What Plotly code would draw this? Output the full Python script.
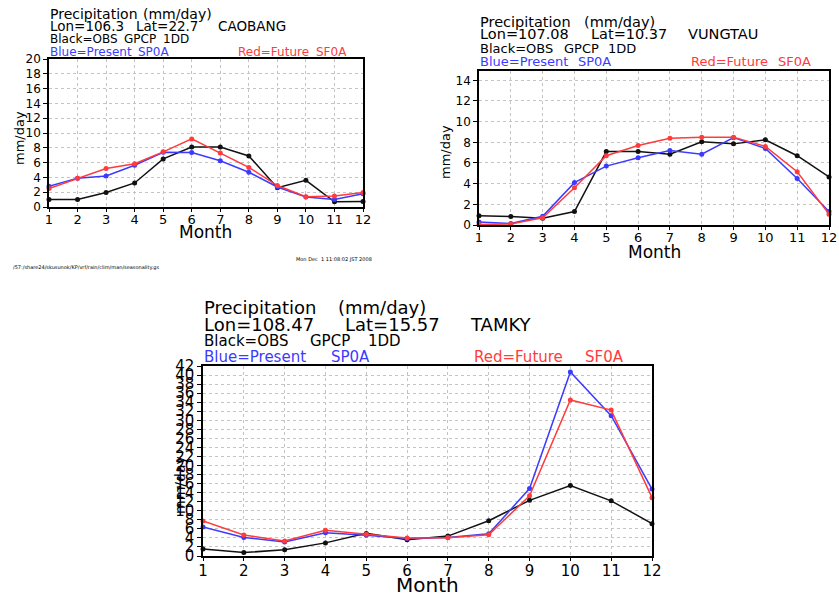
import plotly.graph_objects as go

W, H = 839, 597
months = list(range(1, 13))
month_labels = [str(m) for m in months]

# CAOBANG
cb_obs = [1.0, 1.0, 1.95, 3.25, 6.5, 8.1, 8.1, 6.9, 2.6, 3.6, 0.7, 0.75]
cb_pres = [2.8, 3.9, 4.2, 5.65, 7.4, 7.35, 6.25, 4.7, 2.7, 1.35, 1.0, 1.8]
cb_fut = [2.5, 3.9, 5.2, 5.85, 7.45, 9.2, 7.3, 5.35, 2.9, 1.4, 1.5, 1.95]

# VUNGTAU
vt_obs = [0.9, 0.83, 0.65, 1.3, 7.1, 7.1, 6.85, 8.05, 7.85, 8.25, 6.7, 4.65]
vt_pres = [0.3, 0.15, 0.85, 4.1, 5.7, 6.5, 7.2, 6.85, 8.45, 7.4, 4.5, 1.3]
vt_fut = [0.05, 0.1, 0.7, 3.6, 6.7, 7.7, 8.4, 8.5, 8.5, 7.6, 5.15, 1.05]

# TAMKY
tk_obs = [1.55, 0.75, 1.4, 2.9, 5.0, 3.6, 4.4, 7.8, 12.3, 15.6, 12.2, 7.15]
tk_pres = [6.4, 4.1, 3.1, 5.15, 4.6, 3.85, 4.1, 4.9, 14.9, 40.7, 31.0, 14.8]
tk_fut = [7.75, 4.65, 3.3, 5.7, 4.8, 4.0, 4.05, 4.7, 13.3, 34.5, 32.25, 12.9]

cb_yticks = list(range(0, 21, 2))
vt_yticks = list(range(0, 15, 2))
tk_yticks = list(range(0, 43, 2))

BLACK, BLUE, RED = "#111111", "#3b3bff", "#ff3b3b"
FONT = "DejaVu Sans"

def px(x):
    return x / W

def py(y):
    return 1 - y / H

# panel boxes in pixels: (x0, x1, ytop, ybottom)
boxes = {
    "1": (49, 363, 59, 207),
    "2": (479, 829, 71, 225),
    "3": (203, 652, 366, 556),
}
yranges = {"1": [0, 20], "2": [0, 14.9], "3": [0, 42]}
yticks = {"1": cb_yticks, "2": vt_yticks, "3": tk_yticks}
xtickfont = {"1": 13, "2": 13, "3": 15}
ytickfont = {"1": 12, "2": 12, "3": 15}

fig = go.Figure()

data = {
    "1": (cb_obs, cb_pres, cb_fut),
    "2": (vt_obs, vt_pres, vt_fut),
    "3": (tk_obs, tk_pres, tk_fut),
}
for k, (obs, pres, fut) in data.items():
    xa = "x" if k == "1" else "x" + k
    ya = "y" if k == "1" else "y" + k
    for series, col in ((obs, BLACK), (pres, BLUE), (fut, RED)):
        fig.add_trace(go.Scatter(
            x=months, y=series, mode="lines+markers", xaxis=xa, yaxis=ya,
            line=dict(color=col, width=1.5), marker=dict(color=col, size=5),
            showlegend=False, hoverinfo="skip", cliponaxis=False))

layout = dict(
    width=W, height=H, margin=dict(l=0, r=0, t=0, b=0),
    paper_bgcolor="white", plot_bgcolor="white", showlegend=False,
    font=dict(family=FONT, color="black"),
)
for k, (x0, x1, yt, yb) in boxes.items():
    xname = "xaxis" if k == "1" else "xaxis" + k
    yname = "yaxis" if k == "1" else "yaxis" + k
    anchor_x = "y" if k == "1" else "y" + k
    anchor_y = "x" if k == "1" else "x" + k
    layout[xname] = dict(
        domain=[px(x0), px(x1)], anchor=anchor_x, range=[1, 12],
        tickvals=months, ticktext=month_labels, ticks="outside", ticklen=3,
        ticklabelstandoff=-3,
        tickcolor="black", showline=True, linecolor="black", linewidth=1.5,
        mirror=True, showgrid=True, gridcolor="#c4c4c4", griddash="dot",
        gridwidth=1, zeroline=False, automargin=False,
        tickfont=dict(size=xtickfont[k], family=FONT),
    )
    layout[yname] = dict(
        domain=[py(yb), py(yt)], anchor=anchor_y, range=yranges[k],
        tickvals=yticks[k], ticks="outside", ticklen=4, tickcolor="black",
        showline=True, linecolor="black", linewidth=1.5, mirror=True,
        showgrid=True, gridcolor="#c4c4c4", griddash="dot", gridwidth=1,
        zeroline=False, automargin=False,
        tickfont=dict(size=ytickfont[k], family=FONT),
    )
fig.update_layout(**layout)

def txt(x, y, s, size, color="black", xanchor="left", angle=0):
    fig.add_annotation(x=px(x), y=py(y), xref="paper", yref="paper", text=s,
                       showarrow=False, xanchor=xanchor, yanchor="middle",
                       textangle=angle, borderpad=0,
                       font=dict(size=size, color=color, family=FONT))

def line(y, parts, size, color="black"):
    for x, s in parts:
        txt(x, y, s, size, color)

# Panel 1 texts
line(14, [(49, "Precipitation"), (142, "(mm/day)")], 14)
line(26, [(49, "Lon=106.3"), (135, "Lat=22.7"), (217, "CAOBANG")], 13.5)
line(39, [(49, "Black=OBS"), (123, "GPCP"), (162, "1DD")], 12)
line(52, [(49, "Blue=Present"), (137, "SP0A")], 12, BLUE)
line(52, [(237, "Red=Future"), (315, "SF0A")], 12, RED)
txt(19, 138, "mm/day", 13, angle=-90, xanchor="center")
txt(205, 232, "Month", 17, xanchor="center")
txt(12, 267, "/57:/share24/skusunok/KP/vrf/rain/clim/man/seasonality.gs", 5)
txt(295, 259, "Mon Dec  1 11:08:02 JST 2008", 5)

# Panel 2 texts
line(22, [(479, "Precipitation"), (583, "(mm/day)")], 14.5)
line(34, [(479, "Lon=107.08"), (590, "Lat=10.37"), (687, "VUNGTAU")], 14.5)
line(48, [(479, "Black=OBS"), (563, "GPCP"), (607, "1DD")], 13)
line(62, [(479, "Blue=Present"), (577, "SP0A")], 13, BLUE)
line(62, [(690, "Red=Future"), (777, "SF0A")], 13, RED)
txt(445, 152, "mm/day", 13, angle=-90, xanchor="center")
txt(654, 252, "Month", 17, xanchor="center")

# Panel 3 texts
line(307, [(203, "Precipitation"), (337, "(mm/day)")], 18)
line(324, [(203, "Lon=108.47"), (344, "Lat=15.57"), (469, "TAMKY")], 18)
line(341, [(203, "Black=OBS"), (309, "GPCP"), (367, "1DD")], 15)
line(357, [(203, "Blue=Present"), (330, "SP0A")], 15, BLUE)
line(357, [(473, "Red=Future"), (584, "SF0A")], 15, RED)
txt(180, 485, "mm/day", 14, angle=-90, xanchor="center")
txt(427, 585, "Month", 20, xanchor="center")

fig.write_html("out.html", config={"displayModeBar": False},
               post_script="document.body.style.margin='0';document.body.style.overflow='hidden';")
